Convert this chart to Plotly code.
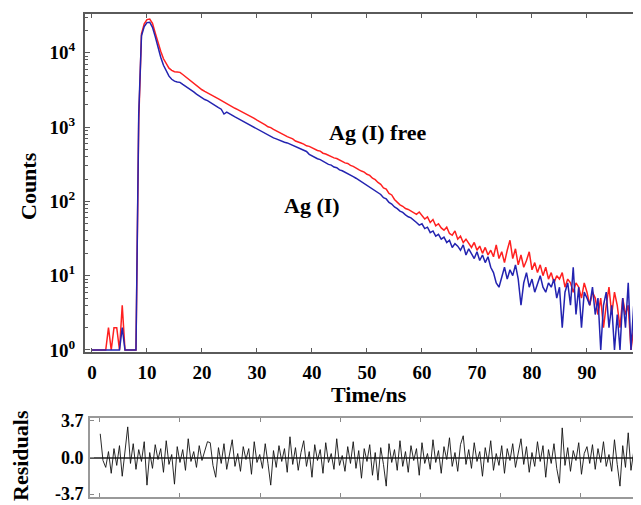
import numpy as np
import plotly.graph_objects as go

# ---------------- data ----------------
# counts sampled every 0.5 ns starting at 0 ns
red_counts = [  # Ag (I) free
    1, 1, 1, 1, 1, 1, 2, 1, 2, 2,
    1, 4, 1, 1, 1, 1, 1, 1200, 18000, 24500,
    28000, 28500, 25000, 18500, 13500, 10500, 8300, 7000, 6200, 5800,
    5550, 5500, 5450, 5100, 4750, 4450, 4150, 3850, 3600, 3380,
    3180, 3020, 2900, 2780, 2620, 2510, 2390, 2270, 2150, 2040,
    1960, 1890, 1790, 1720, 1650, 1570, 1480, 1440, 1370, 1310,
    1240, 1190, 1140, 1070, 1010, 985, 930, 895, 860, 815,
    780, 745, 715, 695, 650, 635, 610, 590, 560, 550,
    525, 505, 485, 475, 445, 435, 415, 405, 385, 378,
    360, 348, 330, 324, 305, 296, 285, 268, 256, 248,
    232, 224, 205, 196, 180, 170, 152, 146, 128, 122,
    106, 97, 90, 86, 80, 78, 74, 71, 67, 72,
    64, 58, 62, 52, 57, 47, 50, 44, 41, 45,
    37, 35, 40, 31, 34, 28, 31, 27, 24, 28,
    22, 25, 20, 24, 19, 22, 18, 26, 17, 21,
    15, 22, 30, 17, 23, 14, 19, 13, 16, 21,
    12, 15, 11, 14, 10, 13, 9, 11, 8, 10,
    9, 11, 7, 9, 8, 6, 8, 7, 5, 8,
    6, 4, 6, 5, 3, 5, 2, 4, 7, 3,
    6, 4, 2, 5, 3, 4, 1, 2, 3, 2,
]
blue_counts = [  # Ag (I)
    1, 1, 1, 1, 1, 1, 1, 1, 1, 1,
    1, 2, 1, 1, 1, 1, 1, 1500, 17000, 22500,
    25500, 25800, 22000, 16500, 11500, 8700, 6800, 5600, 4850, 4400,
    4150, 4050, 4000, 3750, 3550, 3380, 3180, 2970, 2780, 2620,
    2460, 2350, 2270, 2140, 2030, 1930, 1830, 1740, 1500, 1590,
    1500, 1430, 1370, 1310, 1250, 1190, 1130, 1085, 1030, 995,
    940, 905, 850, 805, 770, 745, 715, 695, 665, 652,
    625, 612, 590, 575, 545, 535, 510, 495, 470, 430,
    410, 395, 375, 365, 345, 335, 315, 308, 290, 284,
    265, 258, 245, 236, 222, 215, 205, 194, 185, 175,
    165, 157, 148, 140, 130, 124, 112, 108, 97, 92,
    84, 80, 74, 71, 66, 62, 60, 55, 52, 48,
    50, 43, 45, 38, 40, 34, 36, 31, 33, 28,
    30, 24, 27, 25, 22, 26, 19, 23, 20, 17,
    21, 16, 19, 15, 18, 13, 11, 8, 7, 10,
    13, 9, 12, 10, 14, 9, 4, 8, 11, 7,
    9, 6, 8, 10, 7, 6, 8, 7, 9, 5,
    7, 2, 6, 8, 4, 13, 3, 7, 2, 6,
    5, 4, 7, 3, 5, 1, 4, 6, 2, 4,
    1, 3, 1, 5, 2, 8, 1, 4, 3, 1,
]
# residuals sampled every 0.5 ns starting at 1.5 ns
residuals = [
    2.4, -0.3, -1.0, 0.6, -1.6, 0.9, -0.8, 1.2, -1.9, 0.4,
    3.1, -0.6, 1.4, -1.2, 0.8, -0.4, 1.6, -2.8, 0.5, -1.1,
    1.3, -0.2, 0.9, -1.5, 1.7, -0.7, 0.3, -2.7, 1.1, -0.5,
    0.8, -1.3, 1.9, -0.4, 0.6, -1.0, 1.2, -0.3, 0.7, 1.6,
    1.5, -0.8, -2.0, 1.0, -0.6, 1.4, -1.2, 0.5, 1.8, -0.9,
    0.4, -1.4, 1.1, -0.2, 0.9, -1.7, 1.6, -0.5, 0.3, -1.1,
    1.4, -0.6, -2.8, 0.7, -1.0, 1.2, -0.4, 0.9, -1.5, 2.1,
    -0.7, 1.0, -1.3, 0.5, 1.7, -0.9, 0.6, -2.0, 1.3, -0.3,
    0.8, -1.6, 1.5, -0.5, 0.4, -1.2, 1.9, -0.8, 0.2, -1.4,
    1.1, -0.6, 1.6, -1.1, 0.7, -2.1, 0.9, -0.4, 1.3, -1.8,
    0.5, -2.3, 1.0, -0.7, -2.9, 1.4, -0.5, 0.8, -1.3, 1.7,
    -0.9, 0.6, -1.5, 1.2, -0.3, 0.9, -1.8, 1.5, -0.6, 0.4,
    -1.2, 1.8, -0.5, 0.7, -1.6, 1.1, -0.2, 2.0, -0.9, 0.5,
    -1.4, 1.3, 2.2, -0.7, 0.8, -1.1, 1.5, -0.4, 0.6, -1.9,
    1.0, -0.5, 1.7, -1.3, 0.4, -0.8, 1.2, -1.6, 0.9, -0.3,
    1.4, -1.0, 0.6, 1.9, -0.7, 1.1, -1.5, 0.5, -0.9, 1.6,
    -0.4, 1.2, -2.0, 0.8, -0.6, 1.4, -1.1, -2.6, 3.0, -0.8,
    1.0, -1.4, 0.7, -0.3, 1.5, -1.7, 0.4, 1.1, -0.6, 1.3,
    -1.2, 0.9, -0.5, 1.6, -0.9, 0.3, -1.4, 1.8, -0.7, -2.9,
    1.2, -1.0, 2.5, -1.3, 0.6,
]
x_ticks = [0, 10, 20, 30, 40, 50, 60, 70, 80, 90]
y_ticks = [1, 10, 100, 1000, 10000]
y_tick_labels = ["10<sup>0</sup>", "10<sup>1</sup>", "10<sup>2</sup>",
                 "10<sup>3</sup>", "10<sup>4</sup>"]
res_ticks = [-3.7, 0.0, 3.7]
res_tick_labels = ["-3.7", "0.0", "3.7"]
res_x_ticks = [1.45, 16.0, 30.55, 45.1, 59.65, 74.2, 88.75]

STEP = 0.5
t_red = np.arange(len(red_counts)) * STEP
t_blue = np.arange(len(blue_counts)) * STEP
t_res = 1.5 + np.arange(len(residuals)) * STEP

# the page body has an 8 px margin, so the figure is offset by 8 px
OFF = 8
W, H = 641 - OFF, 505 - OFF
SERIF = "Liberation Serif"
FRAME = "#5a5a5a"


def px(x):
    return (x - OFF) / W


def py(y):
    return (H - (y - OFF)) / H


fig = go.Figure()
fig.add_trace(go.Scatter(x=t_red, y=red_counts, mode="lines",
                         line=dict(color="#ff2020", width=1.5),
                         xaxis="x", yaxis="y", showlegend=False))
fig.add_trace(go.Scatter(x=t_blue, y=blue_counts, mode="lines",
                         line=dict(color="#2323b0", width=1.5),
                         xaxis="x", yaxis="y", showlegend=False))
fig.add_trace(go.Scatter(x=t_res, y=residuals, mode="lines",
                         line=dict(color="#111111", width=0.9),
                         xaxis="x2", yaxis="y2", showlegend=False))

tickfont = dict(family=SERIF, size=19, color="black", weight="bold")

minor_vals = [k * 10 ** d for d in range(0, 5) for k in range(2, 10)]

fig.update_layout(
    width=W, height=H,
    margin=dict(l=0, r=0, t=0, b=0),
    paper_bgcolor="white", plot_bgcolor="white",
    showlegend=False,
    xaxis=dict(domain=[px(85), px(640)], range=[-1.27, 99.64], anchor="y",
               automargin=False,
               tickmode="array", tickvals=x_ticks, ticks="inside", ticklen=4,
               tickcolor=FRAME, tickwidth=1, showline=True, linecolor=FRAME,
               linewidth=2, mirror="ticks", showgrid=False, zeroline=False,
               tickfont=tickfont, ticklabelstandoff=2),
    yaxis=dict(domain=[py(352), py(14)], type="log", range=[-0.027, 4.522],
               anchor="x", automargin=False,
               tickmode="array", tickvals=y_ticks,
               ticktext=y_tick_labels, ticks="inside", ticklen=5,
               tickcolor=FRAME, showline=True, linecolor=FRAME, linewidth=2,
               mirror="ticks", showgrid=False, zeroline=False,
               tickfont=tickfont, ticklabelstandoff=4,
               minor=dict(tickmode="array", tickvals=minor_vals, ticks="inside",
                          ticklen=2.5, tickcolor=FRAME, showgrid=False)),
    xaxis2=dict(domain=[px(90), px(640)], range=[-0.36, 99.64], anchor="y2",
                automargin=False,
                tickmode="array", tickvals=res_x_ticks, showticklabels=False,
                ticks="inside", ticklen=4, tickcolor="#888", showline=True,
                linecolor="#999", linewidth=2, mirror="ticks", showgrid=False,
                zeroline=False),
    yaxis2=dict(domain=[py(497), py(418)], range=[-4.0, 4.0], anchor="x2",
                automargin=False,
                tickmode="array", tickvals=res_ticks, ticktext=res_tick_labels,
                ticks="inside", ticklen=4, tickcolor="#888", showline=True,
                linecolor="#999", linewidth=2, mirror="ticks", showgrid=False,
                zeroline=True, zerolinecolor="#555", zerolinewidth=1.5,
                tickfont=dict(family=SERIF, size=18, color="black", weight="bold"),
                ticklabelstandoff=1),
)

labfont = dict(family=SERIF, size=22, color="black", weight="bold")
annos = [
    dict(text="Counts", x=px(28), y=py(186), textangle=-90),
    dict(text="Time/ns", x=px(369), y=py(394), textangle=0),
    dict(text="Residuals", x=px(20), y=py(456), textangle=-90),
    dict(text="Ag (I) free", x=px(378), y=py(133), textangle=0),
    dict(text="Ag (I)", x=px(312), y=py(206), textangle=0),
]
for a in annos:
    fig.add_annotation(text=a["text"], x=a["x"], y=a["y"], xref="paper",
                       yref="paper", showarrow=False, textangle=a["textangle"],
                       font=labfont, xanchor="center", yanchor="middle")

fig.write_html("out.html")
